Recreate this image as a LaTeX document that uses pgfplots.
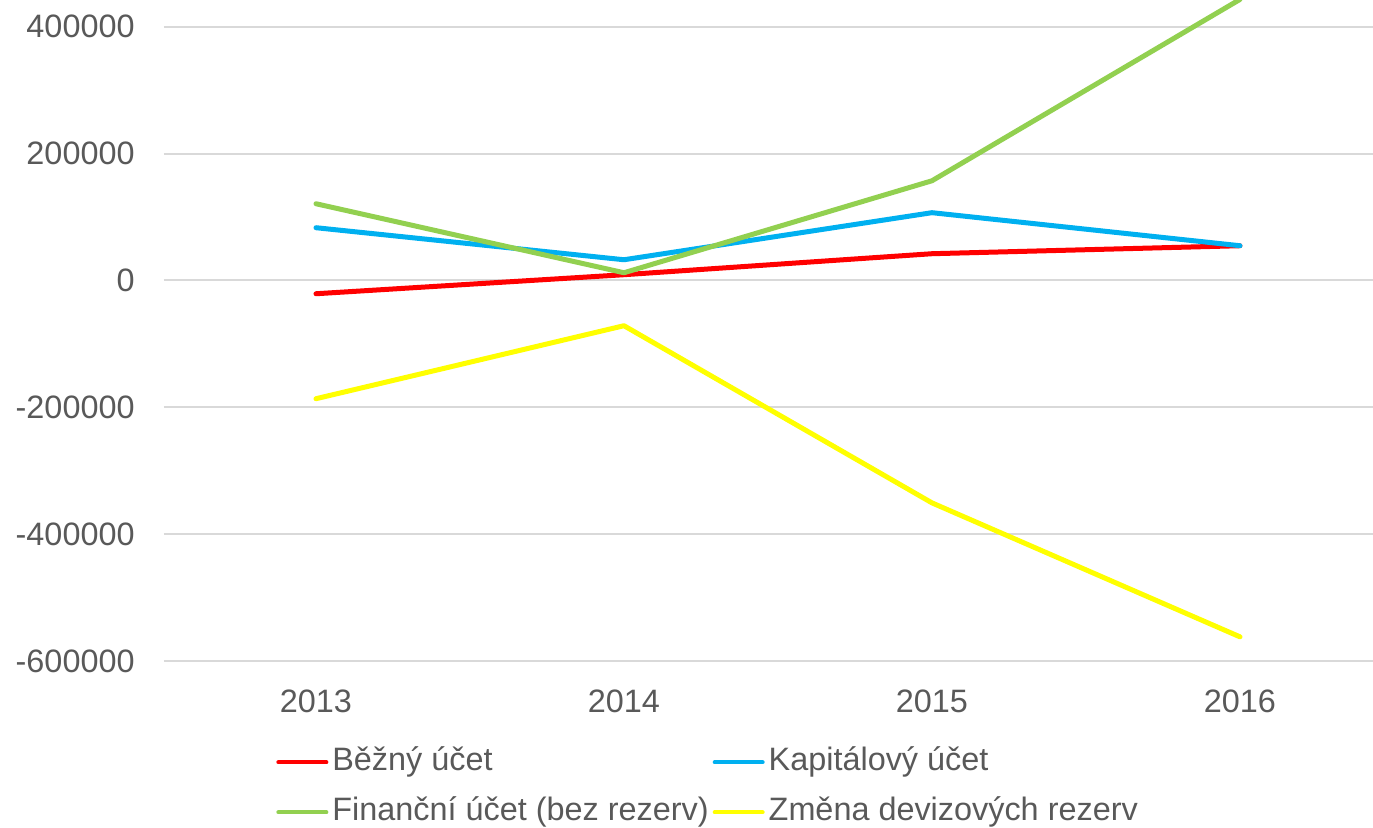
\documentclass[border=0pt]{standalone}
\usepackage{pgfplots}
\pgfplotsset{compat=1.18}
\usepackage{fontspec}
\setmainfont{Liberation Sans}
\definecolor{tickgray}{HTML}{595959}
\definecolor{gridgray}{HTML}{D9D9D9}
\definecolor{cred}{HTML}{FF0000}
\definecolor{cblue}{HTML}{00B0F0}
\definecolor{cgreen}{HTML}{92D050}
\definecolor{cyellow}{HTML}{FFFF00}
\begin{document}
\fontsize{16.2}{19}\selectfont
\begin{tikzpicture}
\useasboundingbox (-82pt,-83.5pt) rectangle (604.5pt,330.5pt);
\begin{axis}[
  at={(0,0)}, anchor=south west,
  scale only axis,
  width=604.5pt, height=330.5pt,
  xmin=-0.4935, xmax=3.432,
  ymin=-600000, ymax=442100,
  axis line style={draw=none},
  ymajorgrids=true,
  grid style={gridgray, line width=1pt},
  xtick={0,1,2,3},
  xticklabels={2013,2014,2015,2016},
  ytick={-600000,-400000,-200000,0,200000,400000},
  yticklabels={-600000,-400000,-200000,0,200000,400000},
  major tick length=0pt,
  tick style={draw=none},
  ticklabel style={font=\fontsize{16.2}{19}\selectfont, text=tickgray, inner sep=0pt},
  yticklabel style={anchor=east, xshift=-14.5pt},
  xticklabel style={anchor=north, yshift=-14pt},
  clip=true,
  legend columns=2,
  legend cell align=left,
  legend image code/.code={\draw[#1, line width=2pt, line cap=round] (0pt,0pt) -- (24pt,0pt);},
  legend style={at={(0.0926,-0.1233)}, anchor=north west, draw=none, fill=none,
    inner sep=0pt, row sep=5.5pt, column sep=0pt,
    font=\fontsize{16.2}{19}\selectfont, text=tickgray,
    nodes={inner sep=2pt, anchor=west, text height=12pt, text depth=3.5pt}},
  every axis plot/.append style={line width=2.5pt, line join=round, line cap=round},
]
\addplot[cred] coordinates {(0,-21000) (1,9000) (2,42100) (3,54700)};
\addlegendentry{Běžný účet}
\addplot[cblue] coordinates {(0,83100) (1,32600) (2,106800) (3,54700)};
\addlegendentry{Kapitálový účet}
\addplot[cgreen] coordinates {(0,120900) (1,12100) (2,157100) (3,443000)};
\addlegendentry{Finanční účet (bez rezerv)}
\addplot[cyellow] coordinates {(0,-186500) (1,-71400) (2,-350700) (3,-561900)};
\addlegendentry{Změna devizových rezerv}
\end{axis}
\end{tikzpicture}
\end{document}
